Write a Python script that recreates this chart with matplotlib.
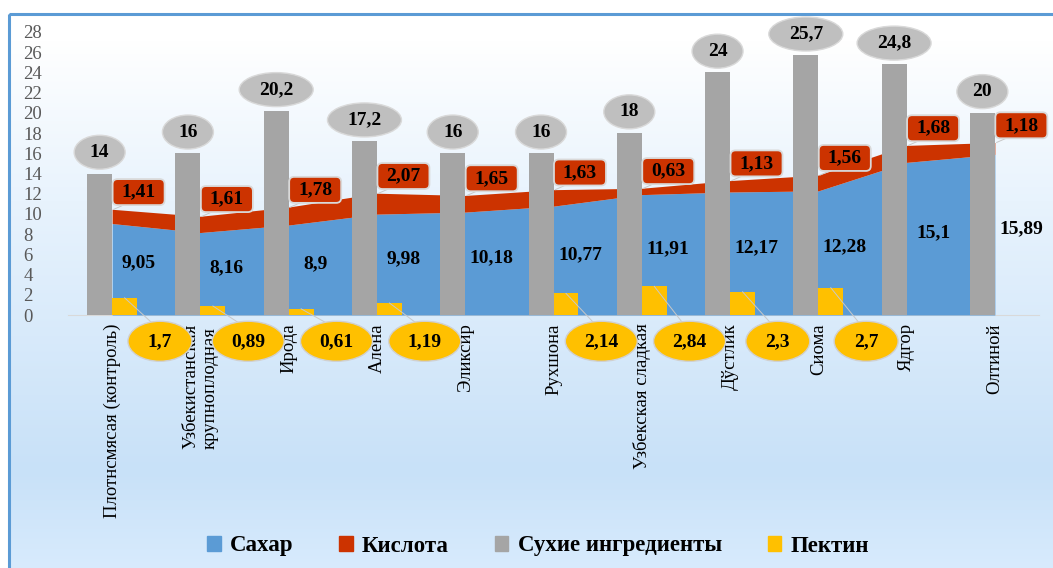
import numpy as np
import matplotlib.pyplot as plt
from matplotlib import transforms
from matplotlib.patches import Ellipse, FancyBboxPatch, Rectangle
from matplotlib.lines import Line2D

# ---- данные ----
categories = ['Плотнсмясая (контроль)', 'Узбекистанская\nкрупноплодная', 'Ирода', 'Алёна',
              'Эликсир', 'Рухшона', 'Узбекская сладкая', 'Дўстлик', 'Сиома', 'Ядгор', 'Олтиной']
sugar = [9.05, 8.16, 8.9, 9.98, 10.18, 10.77, 11.91, 12.17, 12.28, 15.1, 15.89]
acid = [1.41, 1.61, 1.78, 2.07, 1.65, 1.63, 0.63, 1.13, 1.56, 1.68, 1.18]
dry = [14, 16, 20.2, 17.2, 16, 16, 18, 24, 25.7, 24.8, 20]
pectin = [1.7, 0.89, 0.61, 1.19, np.nan, 2.14, 2.84, 2.3, 2.7, np.nan, np.nan]
yticks = list(range(0, 29, 2))
legend_names = ['Сахар', 'Кислота', 'Сухие ингредиенты', 'Пектин']

BLUE, RED, GREY, YELLOW = '#5B9BD5', '#CC3300', '#A5A5A5', '#FFC000'
SERIF = ['Liberation Serif', 'DejaVu Serif']


def fmt(v):
    return f'{v:g}'.replace('.', ',')


W, H = 1053, 568
fig = plt.figure(figsize=(W / 100, H / 100), dpi=100)

# фон: градиент от белого к голубому
bg = fig.add_axes([0, 0, 1, 1])
rows = np.arange(H)
stops_y = [0, 40, 200, 470, 568]
stops_c = np.array([[255, 255, 255], [255, 255, 255], [232, 243, 253],
                    [200, 225, 248], [216, 235, 253]]) / 255
grad = np.stack([np.interp(rows, stops_y, stops_c[:, k]) for k in range(3)], axis=1)
grad = np.repeat(grad[:, None, :], W, axis=1)
grad[:14, :, :] = 1
grad[:, :9, :] = 1
bg.imshow(grad, extent=[0, W, H, 0], aspect='auto')
bg.add_patch(Rectangle((9, 14), W + 20, H + 20, fill=False, ec=BLUE, lw=2.2))
bg.set_xlim(0, W)
bg.set_ylim(H, 0)
bg.axis('off')

# основная область
x0, x1, ytop, ybot = 68, 1039, 32, 315
ax = fig.add_axes([x0 / W, 1 - ybot / H, (x1 - x0) / W, (ybot - ytop) / H])
ax.patch.set_alpha(0)

x = np.arange(len(categories))
top = np.array(sugar) + np.array(acid)
bw = 0.283

ax.fill_between(x, 0, sugar, color=BLUE, lw=0, zorder=1)
ax.fill_between(x, sugar, top, color=RED, lw=0, zorder=1)
ax.bar(x - bw / 2, dry, width=bw, color=GREY, zorder=2)
ax.bar(x + bw / 2, pectin, width=bw, color=YELLOW, zorder=2)

ax.set_xlim(-0.5, len(categories) - 0.5)
ax.set_ylim(0, 28)
ax.set_yticks(yticks)
ax.set_xticks(x)
ax.set_xticklabels(categories, rotation=90, fontfamily=SERIF, fontsize=13.5, color='black',
                   va='top', ha='center', multialignment='left')
ax.tick_params(axis='x', length=0, pad=6)
ax.tick_params(axis='y', length=0, pad=32, labelsize=13.5, labelcolor='#595959')
for lab in ax.get_yticklabels():
    lab.set_fontfamily(SERIF)
    lab.set_horizontalalignment('left')
for side in ['left', 'right', 'top']:
    ax.spines[side].set_visible(False)
ax.spines['bottom'].set_color('#D9D9D9')
ax.spines['bottom'].set_zorder(0)


def at(xd, yd):
    # смещение в дюймах относительно точки данных
    return fig.dpi_scale_trans + transforms.ScaledTranslation(xd, yd, ax.transData)


txt = dict(fontfamily=SERIF, fontweight='bold', fontsize=14, color='black',
           ha='center', va='center', zorder=6)

# подписи сухих веществ (серые овалы)
for i, v in enumerate(dry):
    s = fmt(v)
    w = (28 + 11.5 * len(s)) / 100
    cx, cy = i - bw / 2, v + 2.1
    ax.add_patch(Ellipse((0, 0), w, 0.34, transform=at(cx, cy), fc='#BFBFBF',
                         ec='#D9D9D9', lw=1, zorder=5, clip_on=False))
    ax.text(cx, cy, s, **txt)

# подписи кислоты (красные плашки)
for i, v in enumerate(acid):
    cx, cy = i + 0.3, top[i] + 1.7
    ax.add_line(Line2D([i + 0.02, cx - 0.15], [top[i], cy - 1.2], color='#C8C8C8', lw=0.7, zorder=4))
    ax.add_patch(FancyBboxPatch((-0.26, -0.13), 0.52, 0.26, transform=at(cx, cy),
                                boxstyle='round,pad=0,rounding_size=0.05', fc=RED,
                                ec='#D9D9D9', lw=1.3, zorder=5, clip_on=False))
    ax.text(cx, cy, fmt(v), **txt)

# подписи сахара
for i, v in enumerate(sugar):
    ax.text(i + 0.3, v / 2 + 0.6, fmt(v), clip_on=False, **txt)

# подписи пектина (жёлтые овалы)
for i, v in enumerate(pectin):
    if np.isnan(v):
        continue
    s = fmt(v)
    w = (40 + 8 * len(s)) / 100
    cx, cy = i + bw / 2 + 0.4, -2.6
    ax.add_line(Line2D([i + bw / 2, cx - 0.05], [v, cy + 1.5], color='#C8C8C8', lw=0.7,
                       zorder=4, clip_on=False))
    ax.add_patch(Ellipse((0, 0), w, 0.4, transform=at(cx, cy), fc=YELLOW,
                         ec='#D0D0D0', lw=1, zorder=5, clip_on=False))
    ax.text(cx, cy, s, clip_on=False, **txt)

# легенда
handles = [Rectangle((0, 0), 1, 1, color=c) for c in [BLUE, RED, GREY, YELLOW]]
fig.legend(handles, legend_names, loc='center', bbox_to_anchor=(538 / W, 1 - 546 / H),
           ncol=4, frameon=False, handlelength=0.6, handleheight=0.6, handletextpad=0.4,
           columnspacing=2.0, prop={'family': SERIF, 'weight': 'bold', 'size': 16.5})

fig.savefig('out.png', dpi=100)
